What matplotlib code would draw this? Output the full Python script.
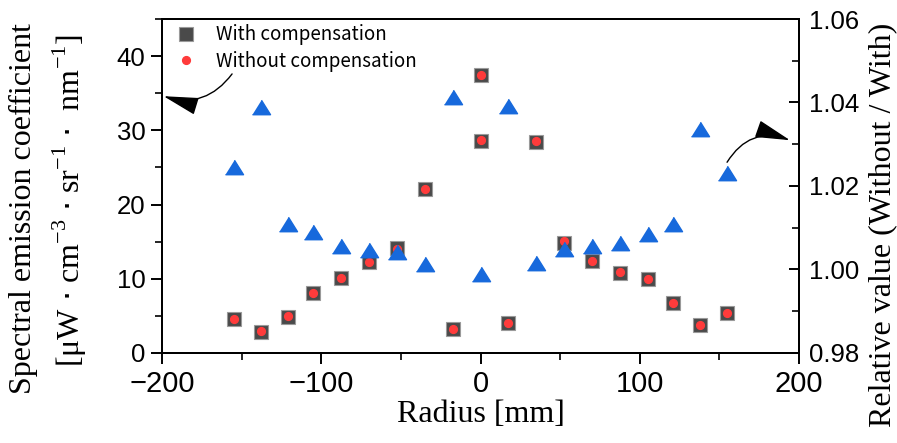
import matplotlib
matplotlib.use("Agg")
import matplotlib.pyplot as plt
from matplotlib.ticker import MultipleLocator

# data
radius = [-155, -138, -121, -105, -87.5, -70, -52.5, -35, -17.5, 0, 0,
          17.5, 35, 52.5, 70, 87.5, 105, 121, 138, 155]
with_comp = [4.54, 2.87, 4.89, 8.03, 10.05, 12.2, 14.1, 22.1, 3.19, 37.4, 28.6,
             4.0, 28.44, 14.85, 12.38, 10.81, 9.92, 6.77, 3.73, 5.42]
without_comp = [4.6, 2.9, 4.93, 8.07, 10.1, 12.25, 13.95, 22.15, 3.25, 37.45, 28.65,
                4.05, 28.5, 15.05, 12.42, 10.85, 9.95, 6.8, 3.75, 5.45]

radius_ratio = [-155, -138, -121, -105, -87.5, -70, -52.5, -35, -17.5, 0,
                17.5, 35, 52.5, 70, 87.5, 105, 121, 138, 155]
ratio = [1.0245, 1.0390, 1.0110, 1.0089, 1.0056, 1.0047, 1.0042, 1.0012, 1.0412, 0.9988,
         1.0392, 1.0015, 1.0048, 1.0056, 1.0063, 1.0085, 1.0108, 1.0336, 1.0230]

serif = "Liberation Serif"
sans = "Liberation Sans"

fig = plt.figure(figsize=(8.97, 4.43), dpi=100)
ax = fig.add_axes([0.1806, 0.2032, 0.7102, 0.7539])
ax2 = ax.twinx()

ax.plot(radius, with_comp, 's', color='#4a4a4a', mec='#9a9a9a', mew=0.8,
        markersize=9.5, label='With compensation', linestyle='none')
ax.plot(radius, without_comp, 'o', color='#ff3b3b', mec='#ff3b3b',
        markersize=5.6, label='Without compensation', linestyle='none')

tri = [(-1, -0.8), (1, -0.8), (0, 0.8)]
ax2.plot(radius_ratio, ratio, marker=tri, color='#1769dc', markersize=13,
         linestyle='none')

ax.set_xlim(-200, 200)
ax.set_ylim(0, 45)
ax2.set_ylim(0.98, 1.06)

ax.xaxis.set_major_locator(MultipleLocator(100))
ax.xaxis.set_minor_locator(MultipleLocator(50))
ax.yaxis.set_major_locator(MultipleLocator(10))
ax.yaxis.set_minor_locator(MultipleLocator(5))
ax2.yaxis.set_minor_locator(MultipleLocator(0.01))
ax2.set_yticks([0.98, 1.00, 1.02, 1.04, 1.06])
ax2.set_yticklabels(['0.98', '1.00', '1.02', '1.04', '1.06'])

for a in (ax, ax2):
    for s in a.spines.values():
        s.set_linewidth(1.4)

ax.tick_params(axis='x', which='major', direction='out', length=8, width=1.4,
               labelsize=21, pad=4)
ax.tick_params(axis='x', which='minor', direction='out', length=5, width=1.2)
ax.tick_params(axis='y', which='major', direction='out', length=8, width=1.4,
               labelsize=18.5, pad=4)
ax.tick_params(axis='y', which='minor', direction='out', length=5, width=1.2)
ax2.tick_params(axis='y', which='major', direction='in', length=7, width=1.4,
                labelsize=18.5, pad=7)
ax2.tick_params(axis='y', which='minor', direction='in', length=5, width=1.2)

for lab in ax.get_xticklabels() + ax.get_yticklabels() + ax2.get_yticklabels():
    lab.set_fontfamily(sans)

ax.set_xlabel('Radius [mm]', fontsize=23, fontfamily=serif, labelpad=2)

fig.text(23 / 897, 1 - 208 / 443, 'Spectral emission coefficient', rotation=90,
         ha='center', va='center', fontsize=23, fontfamily=serif)
fig.text(70 / 897, 1 - 200 / 443,
         r'[$\mathregular{\mu}$W $\cdot$ cm$^{\mathregular{-3}}$ $\cdot$ sr$^{\mathregular{-1}}$ $\cdot$  nm$^{\mathregular{-1}}$]',
         rotation=90, ha='center', va='center', fontsize=23, fontfamily=serif)
fig.text(883 / 897, 1 - 225 / 443, 'Relative value (Without / With)', rotation=90,
         ha='center', va='center', fontsize=23, fontfamily=serif)

leg = ax.legend(loc='upper left', bbox_to_anchor=(0.012, 0.998), frameon=False,
                prop={'family': 'Noto Sans CJK JP', 'size': 13.5},
                handletextpad=1.0, borderaxespad=0.0, borderpad=0.25,
                labelspacing=0.3, handlelength=1.2)

head = '-|>,head_length=2.2,head_width=0.55'
ax.annotate('', xy=(-199.0, 34.6), xytext=(-156.0, 37.6),
            arrowprops=dict(arrowstyle=head, color='black', lw=1.0,
                            shrinkA=0, shrinkB=0,
                            connectionstyle='arc3,rad=-0.35'))
ax.annotate('', xy=(194.3, 28.67), xytext=(154.8, 25.7),
            arrowprops=dict(arrowstyle=head, color='black', lw=1.0,
                            shrinkA=0, shrinkB=0,
                            connectionstyle='arc3,rad=-0.4'))

fig.savefig('out.png', dpi=100)
